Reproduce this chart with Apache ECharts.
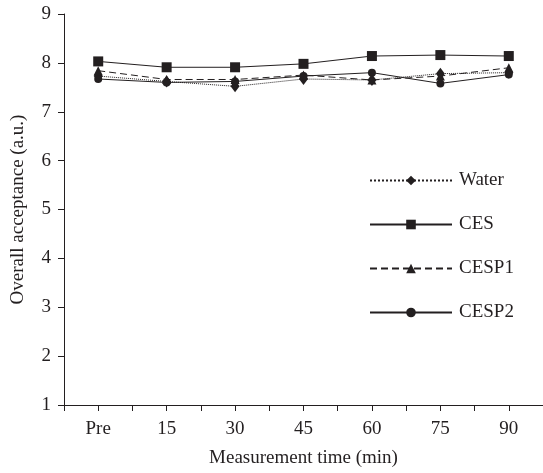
<!DOCTYPE html>
<html>
<head>
    <meta charset="utf-8">
    <title>Overall acceptance</title>
    <script src="https://cdn.jsdelivr.net/npm/echarts@6/dist/echarts.min.js"></script>
</head>
<body style="margin:0;background:#fff;">
<div id="main" style="width:543px;height:473px;"></div>
<script type="text/javascript">
    // categories and series values
    var categories = ['Pre', '15', '30', '45', '60', '75', '90'];
    var water = [7.73, 7.62, 7.52, 7.67, 7.65, 7.78, 7.80];
    var ces   = [8.03, 7.91, 7.91, 7.98, 8.14, 8.16, 8.14];
    var cesp1 = [7.84, 7.66, 7.66, 7.75, 7.65, 7.73, 7.90];
    var cesp2 = [7.67, 7.60, 7.62, 7.73, 7.80, 7.58, 7.76];
    var yTicks = [1, 9, 1]; // min, max, step

    var ink = '#231f20';
    var font = 'Liberation Serif';
    var fs = 19;

    function line(name, data, symbol, size, type) {
        return {
            name: name,
            type: 'line',
            data: data,
            symbol: symbol,
            symbolSize: size,
            itemStyle: {color: ink},
            lineStyle: {color: ink, width: 1, type: type},
            animation: false
        };
    }

    var myChart = echarts.init(document.getElementById('main'));

    var option = {
        backgroundColor: '#fff',
        textStyle: {fontFamily: font, color: ink},
        grid: {left: 64, top: 14, width: 485, height: 396},
        legend: {
            orient: 'vertical',
            left: 364,
            top: 166,
            itemWidth: 82,
            itemHeight: 12,
            itemGap: 25,
            textStyle: {fontFamily: font, fontSize: fs, color: ink, padding: [0, 0, 0, 2]},
            data: ['Water', 'CES', 'CESP1', 'CESP2']
        },
        xAxis: [{
            type: 'category',
            data: categories,
            boundaryGap: true,
            name: 'Measurement time (min)',
            nameLocation: 'middle',
            nameGap: 44,
            nameTextStyle: {fontFamily: font, fontSize: fs, color: ink},
            axisLine: {lineStyle: {color: ink, width: 1}},
            axisTick: {show: true, length: 6, interval: 0, lineStyle: {color: ink}},
            axisLabel: {fontFamily: font, fontSize: fs, color: ink, margin: 15, interval: 0}
        }, {
            // second axis only for the ticks under each category
            type: 'category',
            data: categories,
            position: 'bottom',
            axisLine: {show: false},
            axisTick: {show: true, alignWithLabel: true, length: 6, interval: 0, lineStyle: {color: ink}},
            axisLabel: {show: false}
        }],
        yAxis: {
            type: 'value',
            min: yTicks[0],
            max: yTicks[1],
            interval: yTicks[2],
            name: 'Overall acceptance (a.u.)',
            nameLocation: 'middle',
            nameGap: 36,
            nameTextStyle: {fontFamily: font, fontSize: fs, color: ink},
            axisLine: {show: true, lineStyle: {color: ink, width: 1}},
            axisTick: {show: true, length: 6, lineStyle: {color: ink}},
            axisLabel: {fontFamily: font, fontSize: fs, color: ink, margin: 13},
            splitLine: {show: false}
        },
        series: [
            line('Water', water, 'diamond', [9, 12], 'dotted'),
            line('CES', ces, 'rect', 10, 'solid'),
            line('CESP1', cesp1, 'triangle', 9, [7, 4]),
            line('CESP2', cesp2, 'circle', 8, 'solid')
        ]
    };

    myChart.setOption(option);
</script>
</body>
</html>
